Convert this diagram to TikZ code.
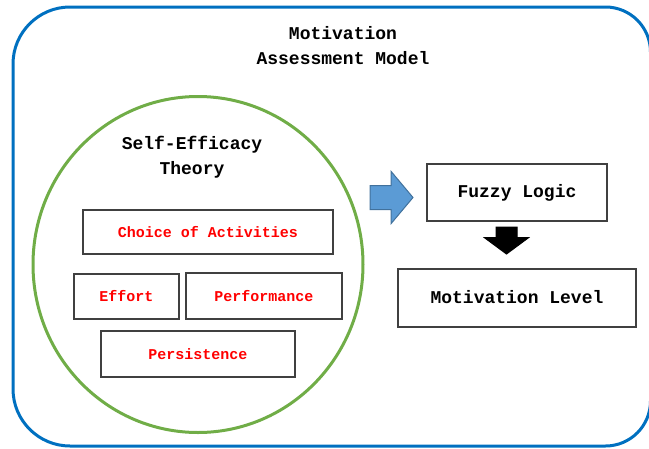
\documentclass[tikz,border=0pt]{standalone}
\usepackage{fontspec}
\setmonofont{Liberation Mono}
\usetikzlibrary{shapes.arrows}

\definecolor{frameblue}{HTML}{0070C0}
\definecolor{circlegreen}{HTML}{70AD47}
\definecolor{arrowblue}{HTML}{5B9BD5}
\definecolor{arrowedge}{HTML}{41719C}
\definecolor{boxgray}{HTML}{404040}

\tikzset{
  bigtext/.style={font=\ttfamily\bfseries\fontsize{18}{25}\selectfont, align=center},
  factor/.style={draw=boxgray, line width=1.2pt, inner sep=0pt, text=red,
    font=\ttfamily\bfseries\fontsize{15}{18}\selectfont},
  stage/.style={draw=boxgray, line width=1.2pt, inner sep=0pt,
    font=\ttfamily\bfseries\fontsize{18}{25}\selectfont},
  blockarrow/.style={single arrow, inner xsep=0pt, line width=1pt, anchor=tail}
}

\begin{document}
\begin{tikzpicture}[x=1pt,y=-1pt]
		\useasboundingbox (0,0) rectangle (649,448);
		% outer frame
		\draw[frameblue, line width=3pt] (13,250) [rounded corners=57pt] |- (330,7)
			[rounded corners=45pt] -| (650.5,250) |- (330,446) [rounded corners=57pt] -| (13,250);
		\node[bigtext] (model) at (343,45.5) {Motivation\\Assessment Model};
		% self-efficacy theory
		\draw[circlegreen, line width=3pt] (198,264.5) ellipse (165 and 168);
		\node[bigtext] (theory) at (192,157) {Self-Efficacy\\Theory};
		\node[factor, minimum width=250pt, minimum height=44pt] (choice) at (208,232) {Choice of Activities};
		\node[factor, minimum width=105pt, minimum height=45pt] (effort) at (126.5,296.5) {Effort};
		\node[factor, minimum width=156pt, minimum height=46pt] (perf) at (264,296) {Performance};
		\node[factor, minimum width=194pt, minimum height=46pt] (persist) at (198,354) {Persistence};
		% fuzzy part
		\node[stage, minimum width=180pt, minimum height=57pt] (fuzzy) at (517,192.5) {\raisebox{3pt}{Fuzzy Logic}};
		\node[stage, minimum width=238pt, minimum height=58pt] (level) at (517,298) {\raisebox{3pt}{Motivation Level}};
		\node[blockarrow, fill=arrowblue, draw=arrowedge, inner ysep=11.5pt, minimum height=43pt,
			single arrow head extend=14pt, single arrow tip angle=100] (tofuzzy) at (369.5,197.5) {};
		\node[blockarrow, fill=black, draw=black, rotate=-90, inner ysep=10pt, minimum height=27pt,
			single arrow head extend=11.5pt, single arrow tip angle=107] (tolevel) at (506.5,226.5) {};
	\end{tikzpicture}
\end{document}
